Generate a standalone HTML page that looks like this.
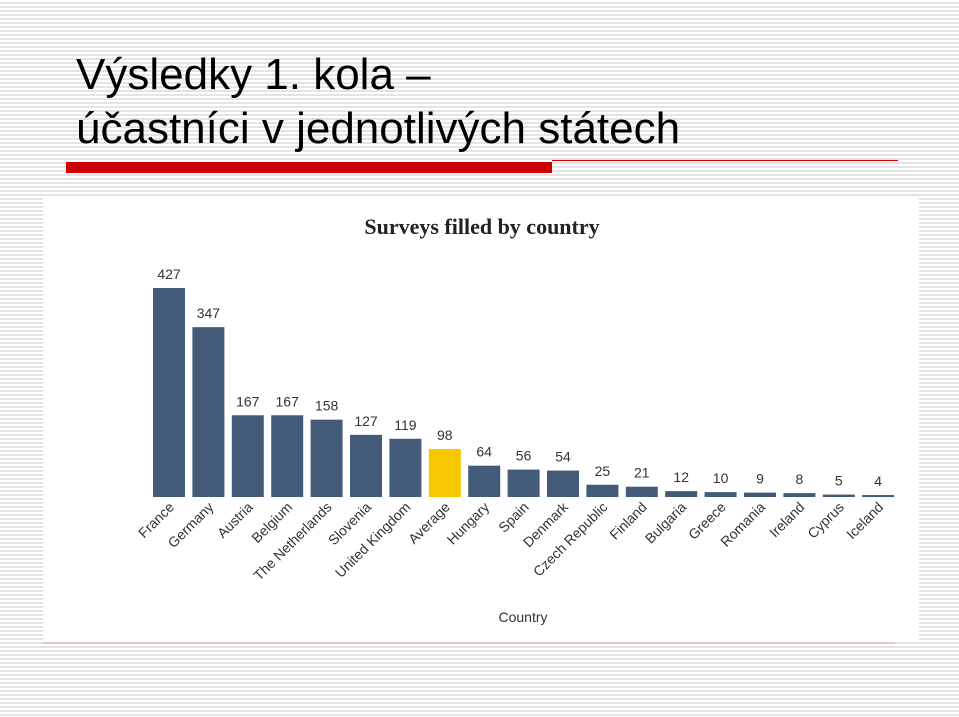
<!DOCTYPE html>
<html><head><meta charset="utf-8"><style>
body{margin:0;width:959px;height:717px;overflow:hidden;position:relative;font-family:"Liberation Sans",sans-serif;
background:repeating-linear-gradient(to bottom,#fff 0,#fff 2px,#e4e4e4 2px,#e4e4e4 4px);}
#title{position:absolute;left:76px;top:48px;font-size:44px;line-height:54px;color:#000;margin:0;font-weight:normal}
#redbar{position:absolute;left:66px;top:162px;width:486px;height:11px;background:#cc0000}
#redline{position:absolute;left:552px;top:160px;width:346px;height:1px;background:#cc0000}
#panel{position:absolute;left:43px;top:198px;width:876px;height:444px;background:#fff}
#bottomline{position:absolute;left:43px;top:642px;width:852px;height:2px;background:#e0c8c8}
</style></head><body>
<h1 id="title">Výsledky 1. kola –<br>účastníci v jednotlivých státech</h1>
<div id="redbar"></div>
<div id="redline"></div>
<div id="panel"></div>
<div id="bottomline"></div>
<svg id="chart" width="959" height="717" style="position:absolute;left:0;top:0">
<text x="482" y="234" text-anchor="middle" font-family="Liberation Serif,serif" font-weight="bold" font-size="22" fill="#222">Surveys filled by country</text>
<text x="523" y="622" text-anchor="middle" font-size="14" fill="#333">Country</text>
</svg>
<script>
const categories=["France","Germany","Austria","Belgium","The Netherlands","Slovenia","United Kingdom","Average","Hungary","Spain","Denmark","Czech Republic","Finland","Bulgaria","Greece","Romania","Ireland","Cyprus","Iceland"];
const values=[427,347,167,167,158,127,119,98,64,56,54,25,21,12,10,9,8,5,4];
const highlight=["Average"];
const svg=document.getElementById('chart');
const NS='http://www.w3.org/2000/svg';
const x0=153,step=39.4,bw=32,base=497,scale=209/427;
const xPos=i=>x0+i*step;
const yPos=v=>base-v*scale;
categories.forEach((c,i)=>{
  const v=values[i];
  const r=document.createElementNS(NS,'rect');
  r.setAttribute('x',xPos(i));r.setAttribute('y',yPos(v));
  r.setAttribute('width',bw);r.setAttribute('height',Math.max(base-yPos(v),2));
  r.setAttribute('fill',highlight.includes(c)?'#f5c800':'#435b78');
  
  
  svg.appendChild(r);
  const t=document.createElementNS(NS,'text');
  t.setAttribute('x',xPos(i)+bw/2);t.setAttribute('y',yPos(v)-9);
  t.setAttribute('text-anchor','middle');t.setAttribute('font-size','14');t.setAttribute('fill','#333');
  t.textContent=v;
  
  
  svg.appendChild(t);
  const l=document.createElementNS(NS,'text');
  const lx=xPos(i)+bw/2+6,ly=508;
  l.setAttribute('x',lx);l.setAttribute('y',ly);
  l.setAttribute('text-anchor','end');l.setAttribute('font-size','14');l.setAttribute('fill','#333');
  l.setAttribute('transform','rotate(-45 '+lx+' '+ly+')');
  l.textContent=c;
  
  
  svg.appendChild(l);
});
</script>
</body></html>
